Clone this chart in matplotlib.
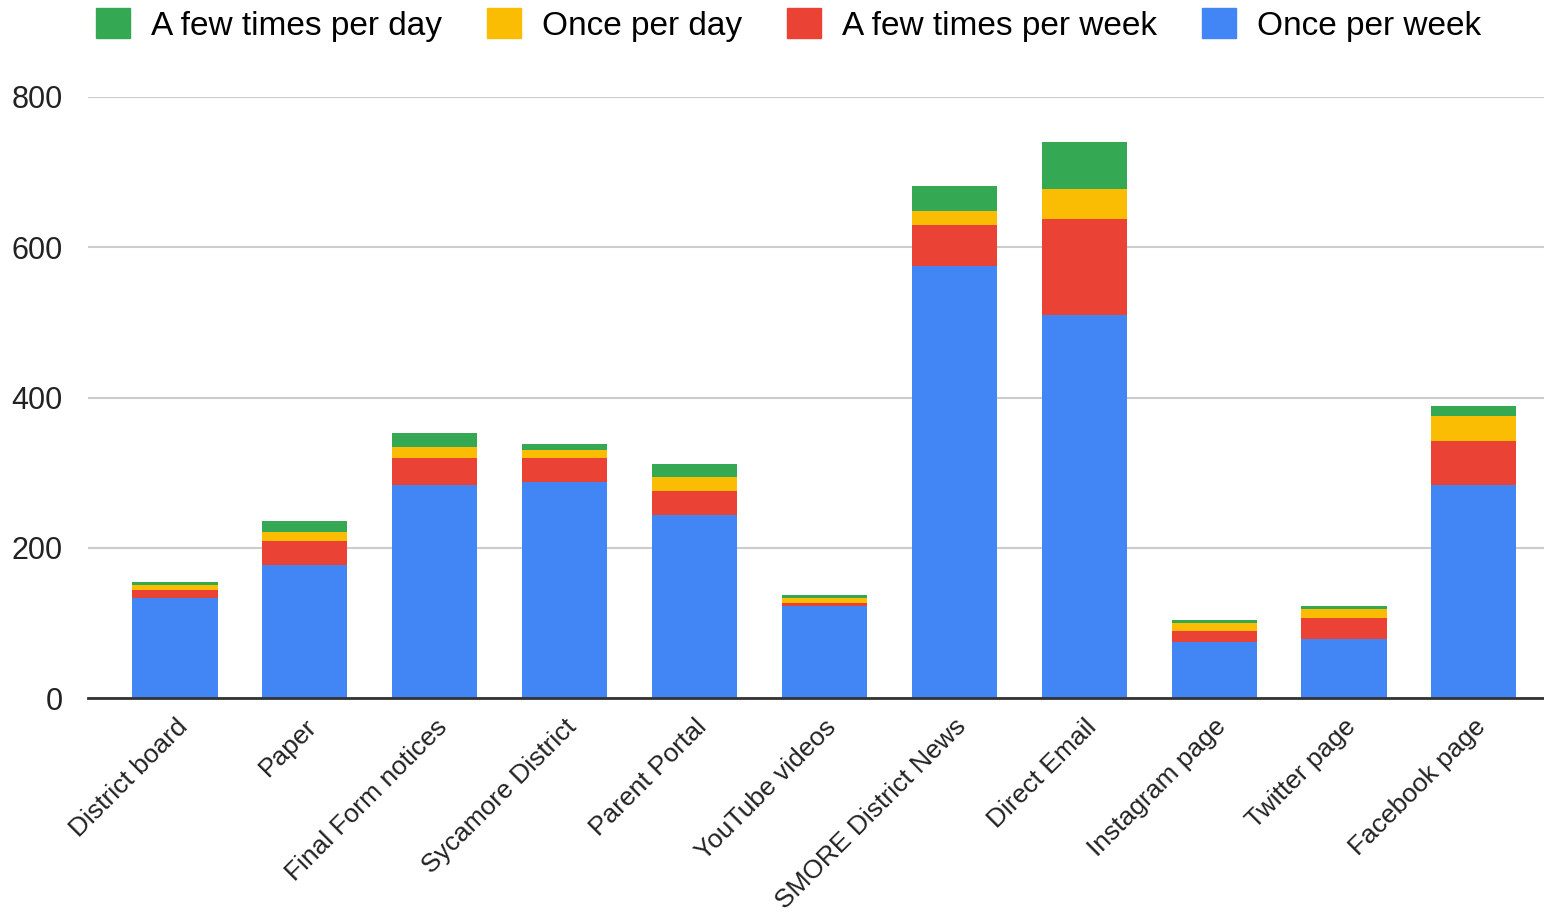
import numpy as np
from matplotlib import pyplot as plt
from matplotlib.patches import Patch
from matplotlib.transforms import ScaledTranslation

plt.rcParams['font.family'] = ['Liberation Sans', 'DejaVu Sans']

categories = ['District board', 'Paper', 'Final Form notices', 'Sycamore District',
              'Parent Portal', 'YouTube videos', 'SMORE District News', 'Direct Email',
              'Instagram page', 'Twitter page', 'Facebook page']
once_week = [133, 177, 284, 288, 243, 122, 575, 510, 74, 78, 283]
few_week = [11, 32, 36, 32, 33, 4, 55, 128, 15, 29, 59]
once_day = [7, 12, 14, 10, 18, 7, 18, 40, 11, 11, 33]
few_day = [4, 14, 19, 8, 18, 4, 33, 62, 4, 4, 14]

series = [('Once per week', once_week, '#4285F4'),
          ('A few times per week', few_week, '#EA4335'),
          ('Once per day', once_day, '#FBBC04'),
          ('A few times per day', few_day, '#34A853')]

fig = plt.figure(figsize=(15.44, 9.19), dpi=100)
ax = fig.add_axes([88 / 1544, 1 - 698 / 919, 1 - 88 / 1544, 601 / 919])

x = np.arange(len(categories))
bottom = np.zeros(len(categories))
for name, vals, color in series:
    ax.bar(x, vals, 0.655, bottom=bottom, color=color, label=name, zorder=3)
    bottom += np.array(vals)

ax.set_xlim(-0.67, 10.54)
ax.set_ylim(0, 800)
ax.set_yticks([0, 200, 400, 600, 800])
ax.yaxis.grid(True, color='#cccccc', linewidth=1.5, zorder=0)
ax.set_xticks(x)
ax.set_xticklabels(categories, rotation=45, ha='right', rotation_mode='anchor',
                   fontsize=19, color='#222222')
offset = ScaledTranslation(12 / 100, 0, fig.dpi_scale_trans)
for lbl in ax.get_xticklabels():
    lbl.set_transform(lbl.get_transform() + offset)
ax.tick_params(axis='y', labelsize=22, length=0, pad=18, labelcolor='#222222')
ax.tick_params(axis='x', length=0, pad=12)
for s in ['top', 'right', 'left']:
    ax.spines[s].set_visible(False)
ax.spines['bottom'].set_color('#333333')
ax.spines['bottom'].set_linewidth(2)
ax.spines['bottom'].set_zorder(4)

handles = [Patch(color=c, label=n) for n, v, c in series[::-1]]
fig.legend(handles=handles, loc='center', bbox_to_anchor=(0.511, 1 - 25 / 919), ncol=4,
           frameon=False, fontsize=24, handlelength=1.0, handleheight=1.0,
           columnspacing=1.35, handletextpad=0.65, borderpad=0)

fig.savefig('out.png', dpi=100)
